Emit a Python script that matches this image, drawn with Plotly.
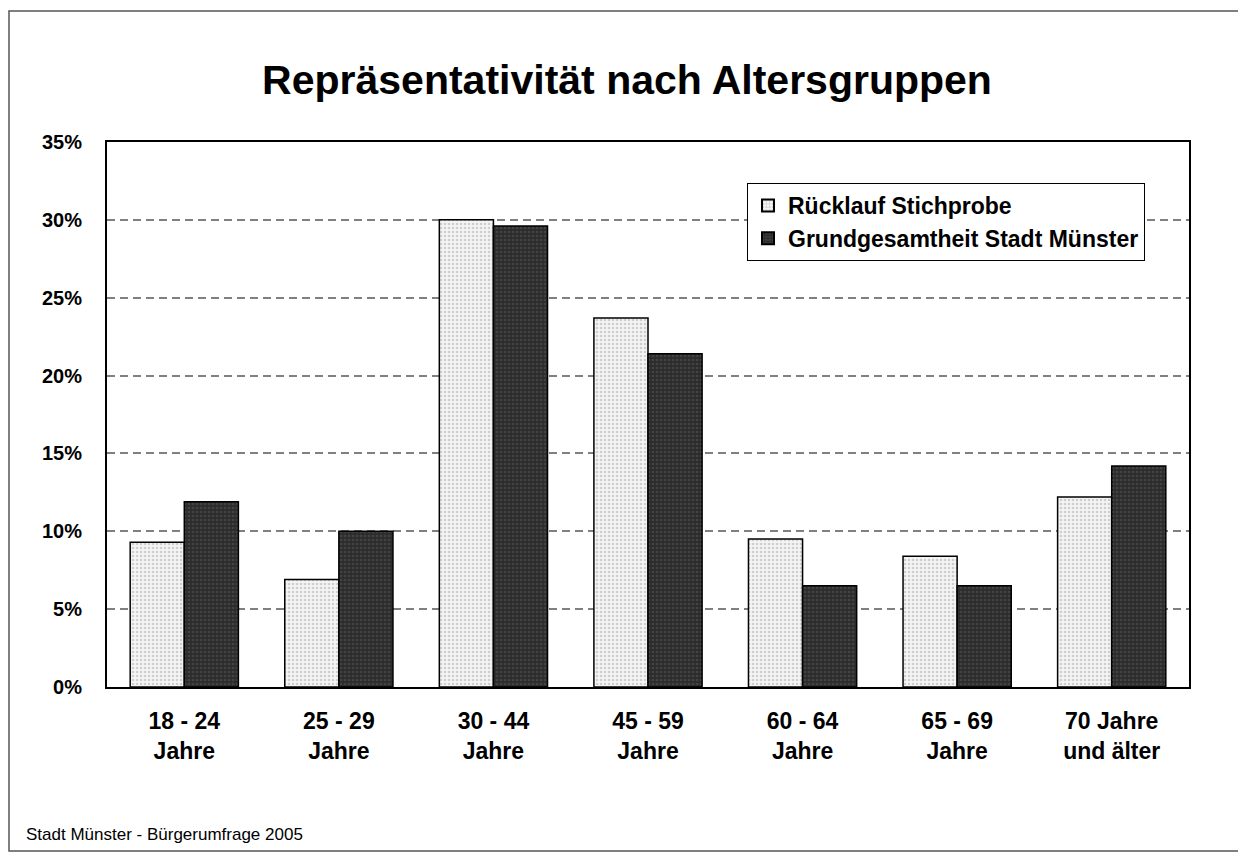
import plotly.graph_objects as go

categories = ["18 - 24<br>Jahre", "25 - 29<br>Jahre", "30 - 44<br>Jahre", "45 - 59<br>Jahre",
              "60 - 64<br>Jahre", "65 - 69<br>Jahre", "70 Jahre<br>und älter"]
ruecklauf = [9.3, 6.9, 30.0, 23.7, 9.5, 8.4, 12.2]
grundgesamtheit = [11.9, 10.0, 29.6, 21.4, 6.5, 6.5, 14.2]
series_names = ["Rücklauf Stichprobe", "Grundgesamtheit Stadt Münster"]
y_ticks = [0, 5, 10, 15, 20, 25, 30, 35]
y_tick_labels = [f"{v}%" for v in y_ticks]

OFF = 8  # browser body margin
W, H = 1246 - OFF, 856 - OFF
# plot area in absolute page pixels
PL, PR, PT, PB = 107, 1189, 142, 687
L, R, T, B = PL - OFF, W - (PR - OFF), PT - OFF, H - (PB - OFF)
pw, ph = PR - PL, PB - PT

def px_x(x):
    return (x - PL) / pw

def px_y(y):
    return (PB - y) / ph

fig = go.Figure()
fig.add_trace(go.Bar(
    x=categories, y=ruecklauf, name=series_names[0],
    marker=dict(color="#f4f4f4",
                pattern=dict(shape=".", fgcolor="#a8a8a8", bgcolor="#f4f4f4", size=4, solidity=0.35),
                line=dict(color="#000000", width=1.5)),
))
fig.add_trace(go.Bar(
    x=categories, y=grundgesamtheit, name=series_names[1],
    marker=dict(color="#2c2c2c",
                pattern=dict(shape=".", fgcolor="#5a5a5a", bgcolor="#2c2c2c", size=4, solidity=0.35),
                line=dict(color="#000000", width=1.5)),
))

fig.update_layout(
    width=W, height=H,
    margin=dict(l=L, r=R, t=T, b=B),
    paper_bgcolor="white", plot_bgcolor="white",
    barmode="group", bargap=0.3, bargroupgap=0,
    font=dict(family="Liberation Sans, Arial, sans-serif", color="black"),
    title=dict(text="<b>Repräsentativität nach Altersgruppen</b>",
               x=0.5, xanchor="center", y=1 - (80 - OFF) / H, yanchor="middle",
               font=dict(size=41, color="black")),
    legend=dict(x=px_x(747), y=px_y(183), xanchor="left", yanchor="top",
                bgcolor="white", bordercolor="black", borderwidth=1,
                font=dict(size=23, color="black"), tracegroupgap=2,
                itemsizing="constant"),
    showlegend=True,
)
fig.update_xaxes(
    showline=True, linecolor="black", linewidth=2, mirror=True,
    ticks="", tickfont=dict(size=23, color="black", family="Liberation Sans, Arial, sans-serif"),
    tickprefix="<b>", ticksuffix="</b>", ticklabelstandoff=12,
)
fig.update_yaxes(
    range=[0, 35], tickvals=y_ticks, ticktext=[f"<b>{t}</b>" for t in y_tick_labels],
    showline=True, linecolor="black", linewidth=2, mirror=True,
    showgrid=True, gridcolor="#808080", gridwidth=1.5, griddash="8px,5px",
    ticks="", tickfont=dict(size=20, color="black"), ticklabelstandoff=19,
    zeroline=False,
)

# outer frame
fig.add_shape(type="rect", xref="paper", yref="paper",
              x0=px_x(9), x1=px_x(1240), y0=px_y(851), y1=px_y(11),
              line=dict(color="#555555", width=1.5), fillcolor="rgba(0,0,0,0)", layer="below")

fig.add_annotation(text="Stadt Münster - Bürgerumfrage 2005", xref="paper", yref="paper",
                   x=px_x(24), y=px_y(834), xanchor="left", yanchor="middle",
                   showarrow=False, font=dict(size=17, color="black"))

# legend labels bold
for tr in fig.data:
    tr.name = f"<b>{tr.name}</b>"

fig.write_html("out.html")
